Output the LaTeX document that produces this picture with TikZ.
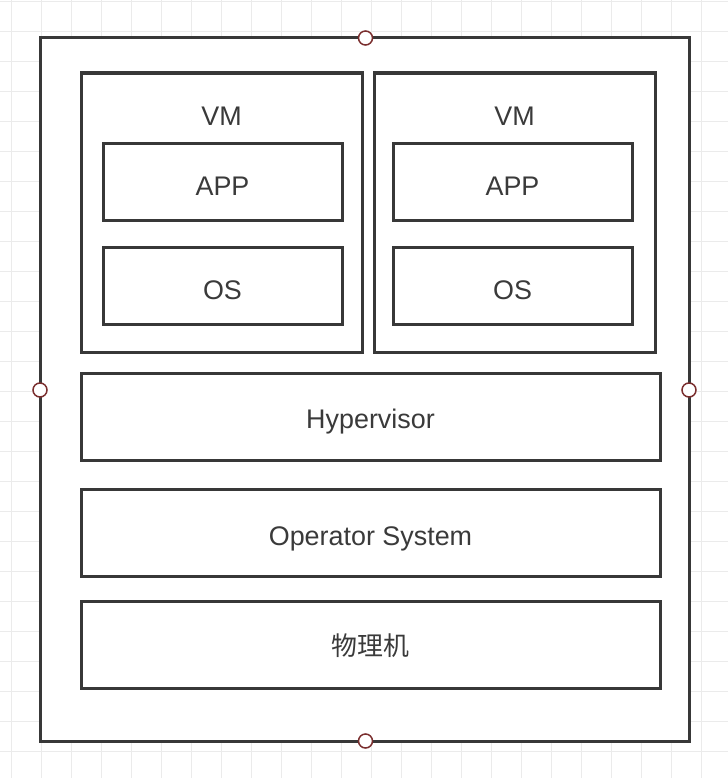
\documentclass[tikz,border=0pt]{standalone}
\usepackage{fontspec}
\setmainfont{Liberation Sans}
\newfontfamily\cjk{Noto Sans CJK SC}
\definecolor{gridc}{HTML}{EBEBEB}
\definecolor{linec}{HTML}{383838}
\definecolor{txtc}{HTML}{3A3A3A}
\definecolor{handc}{HTML}{7A2E2E}
\begin{document}
\begin{tikzpicture}[x=1bp,y=-1bp,
  box/.style={draw=linec,line width=3bp,fill=white},
  lbl/.style={anchor=base,text=txtc,font=\fontsize{27}{31}\selectfont,inner sep=0pt},
  handle/.style={circle,draw=handc,fill=white,line width=1.5bp,minimum size=14bp,inner sep=0pt}]
\useasboundingbox (0,0) rectangle (728,778);
% grid
\foreach \gx in {11.7,41.7,...,728} \draw[gridc,line width=1.2bp] (\gx,0) -- (\gx,778);
\foreach \gy in {1.7,31.7,...,778} \draw[gridc,line width=1.2bp] (0,\gy) -- (728,\gy);
% outer
\draw[box] (40,38) rectangle (689,741);
\coordinate (outT) at (365.5,38);
\coordinate (outB) at (365.5,741);
\coordinate (outL) at (40,390);
\coordinate (outR) at (689,390);
% VMs
\draw[box] (81,73) rectangle (362,352);
\draw[box] (374,73) rectangle (655,352);
\draw[box] (103,143) rectangle (342,220);
\draw[box] (103,247) rectangle (342,324);
\draw[box] (393,143) rectangle (632,220);
\draw[box] (393,247) rectangle (632,324);
\draw[box] (81,373) rectangle (660,460);
\draw[box] (81,489) rectangle (660,576);
\draw[box] (81,601) rectangle (660,688);
% labels
\node[lbl] (vm1) at (221.5,125) {VM};
\node[lbl] (vm2) at (514.5,125) {VM};
\node[lbl] (app1) at (222.5,195) {APP};
\node[lbl] (app2) at (512.5,195) {APP};
\node[lbl] (os1) at (222.5,299) {OS};
\node[lbl] (os2) at (512.5,299) {OS};
\node[lbl] (hyp) at (370.5,428) {Hypervisor};
\node[lbl] (ops) at (370.5,545) {Operator System};
\node[lbl,font=\cjk\fontsize{26}{30}\selectfont] (phy) at (370.5,655) {物理机};
% handles
\node[handle] (h1) at (outT) {};
\node[handle] (h2) at (outB) {};
\node[handle] (h3) at (outL) {};
\node[handle] (h4) at (outR) {};
\end{tikzpicture}
\end{document}
